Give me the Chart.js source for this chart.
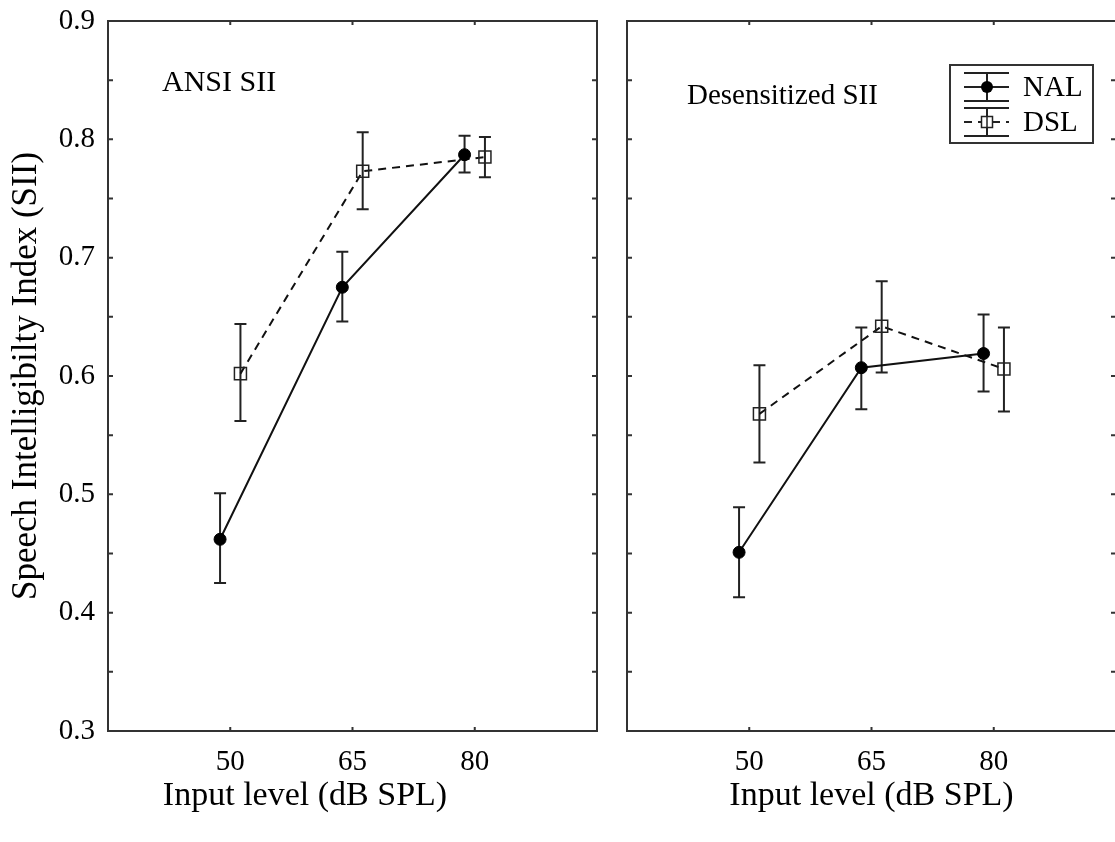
<!DOCTYPE html>
<html>
<head>
<meta charset="utf-8">
<script src="https://cdn.jsdelivr.net/npm/chart.js@4.4.1/dist/chart.umd.min.js"></script>
<style>
  html, body { margin: 0; padding: 0; background: #fff; overflow: hidden; }
  #wrap { position: relative; width: 1115px; height: 842px; overflow: hidden; }
  #left { position: absolute; left: 0; top: 0; }
  #right { position: absolute; left: 612px; top: 0; }
</style>
</head>
<body>
<div id="wrap">
  <canvas id="left" width="612" height="842"></canvas>
  <canvas id="right" width="520" height="842"></canvas>
</div>
<script>
// input levels (dB SPL); NAL and DSL points are drawn slightly apart
const levels = [50, 65, 80];
const shift = 1.25;

// ANSI SII panel
const ansiNal   = [0.462, 0.675, 0.787];
const ansiNalLo = [0.425, 0.646, 0.772];
const ansiNalHi = [0.501, 0.705, 0.803];
const ansiDsl   = [0.602, 0.773, 0.785];
const ansiDslLo = [0.562, 0.741, 0.768];
const ansiDslHi = [0.644, 0.806, 0.802];

// Desensitized SII panel
const desNal   = [0.451, 0.607, 0.619];
const desNalLo = [0.413, 0.572, 0.587];
const desNalHi = [0.489, 0.641, 0.652];
const desDsl   = [0.568, 0.642, 0.606];
const desDslLo = [0.527, 0.603, 0.570];
const desDslHi = [0.609, 0.680, 0.641];

const serif = "'Liberation Serif', 'Times New Roman', serif";
Chart.defaults.font.family = serif;
Chart.defaults.color = '#000';

function pts(vals, off) {
    return levels.map((l, i) => ({x: l + off, y: vals[i]}));
}

const errorBars = {
    id: 'errorBars',
    beforeDatasetsDraw(chart) {
        const {ctx, scales: {x, y}} = chart;
        ctx.save();
        ctx.strokeStyle = '#222';
        ctx.lineWidth = 2;
        chart.data.datasets.forEach(ds => {
            ds.data.forEach((p, i) => {
                const px = x.getPixelForValue(p.x);
                const top = y.getPixelForValue(ds.hi[i]);
                const bot = y.getPixelForValue(ds.lo[i]);
                ctx.beginPath();
                ctx.moveTo(px, top); ctx.lineTo(px, bot);
                ctx.moveTo(px - 6, top); ctx.lineTo(px + 6, top);
                ctx.moveTo(px - 6, bot); ctx.lineTo(px + 6, bot);
                ctx.stroke();
            });
        });
        ctx.restore();
    }
};

// box around the plot with short inward ticks
const frame = {
    id: 'frame',
    afterDraw(chart) {
        const {ctx, chartArea: a, scales: {x, y}} = chart;
        ctx.save();
        ctx.strokeStyle = '#333';
        ctx.lineWidth = 2;
        ctx.strokeRect(a.left, a.top, a.right - a.left, a.bottom - a.top);
        ctx.beginPath();
        y.ticks.forEach(t => {
            const py = y.getPixelForValue(t.value);
            ctx.moveTo(a.left, py); ctx.lineTo(a.left + 5, py);
            ctx.moveTo(a.right, py); ctx.lineTo(a.right - 5, py);
        });
        x.ticks.forEach(t => {
            const px = x.getPixelForValue(t.value);
            ctx.moveTo(px, a.top); ctx.lineTo(px, a.top + 4);
            ctx.moveTo(px, a.bottom); ctx.lineTo(px, a.bottom - 4);
        });
        ctx.stroke();
        ctx.restore();
    }
};

const panelLabel = {
    id: 'panelLabel',
    afterDraw(chart, args, o) {
        const {ctx, chartArea: a} = chart;
        ctx.save();
        ctx.fillStyle = '#000';
        ctx.font = o.size + 'px ' + serif;
        ctx.textBaseline = 'middle';
        ctx.fillText(o.text, a.left + o.dx, a.top + o.dy);
        ctx.restore();
    }
};

const keyBox = {
    id: 'keyBox',
    afterDraw(chart, args, o) {
        if (!o.show) return;
        const {ctx, chartArea: a} = chart;
        const w = 143, h = 78, bx = a.right - 166, by = a.top + 44;
        ctx.save();
        ctx.fillStyle = '#fff';
        ctx.fillRect(bx, by, w, h);
        ctx.strokeStyle = '#333';
        ctx.lineWidth = 2;
        ctx.strokeRect(bx, by, w, h);
        chart.data.datasets.forEach((ds, i) => {
            const cy = by + 22 + i * 35, cx = bx + 37;
            ctx.strokeStyle = '#222';
            ctx.lineWidth = 2;
            ctx.setLineDash([]);
            ctx.beginPath();
            ctx.moveTo(bx + 14, cy - 14); ctx.lineTo(bx + 59, cy - 14);
            ctx.moveTo(bx + 14, cy + 14); ctx.lineTo(bx + 59, cy + 14);
            ctx.moveTo(cx, cy - 14); ctx.lineTo(cx, cy + 14);
            ctx.stroke();
            ctx.setLineDash(ds.borderDash || []);
            ctx.beginPath();
            ctx.moveTo(bx + 14, cy); ctx.lineTo(bx + 59, cy);
            ctx.stroke();
            ctx.setLineDash([]);
            ctx.beginPath();
            if (ds.pointStyle === 'circle') {
                ctx.fillStyle = '#000';
                ctx.arc(cx, cy, 6, 0, Math.PI * 2);
                ctx.fill();
            } else {
                ctx.fillStyle = '#fff';
                ctx.rect(cx - 5.5, cy - 5.5, 11, 11);
                ctx.fill();
                ctx.lineWidth = 1.5;
                ctx.stroke();
                ctx.beginPath();
                ctx.moveTo(cx, cy - 5.5); ctx.lineTo(cx, cy + 5.5);
                ctx.stroke();
            }
            ctx.fillStyle = '#000';
            ctx.font = '29px ' + serif;
            ctx.textBaseline = 'middle';
            ctx.fillText(ds.label, bx + 73, cy + 1);
        });
        ctx.restore();
    }
};

function panel(id, p) {
    return new Chart(document.getElementById(id), {
        type: 'line',
        data: {
            datasets: [
                {
                    label: 'NAL', data: pts(p.nal, -shift), lo: p.nalLo, hi: p.nalHi,
                    borderColor: '#111', borderWidth: 2, tension: 0,
                    pointStyle: 'circle', pointRadius: 6,
                    pointBackgroundColor: '#000', pointBorderColor: '#000', pointBorderWidth: 1
                },
                {
                    label: 'DSL', data: pts(p.dsl, shift), lo: p.dslLo, hi: p.dslHi,
                    borderColor: '#111', borderWidth: 2, borderDash: [8, 6], tension: 0,
                    pointStyle: 'rect', pointRadius: 8.5,
                    pointBackgroundColor: 'rgba(0,0,0,0)', pointBorderColor: '#222', pointBorderWidth: 1.5
                }
            ]
        },
        options: {
            responsive: false,
            animation: false,
            devicePixelRatio: 1,
            layout: {padding: {left: p.padLeft, right: p.padRight, top: 21, bottom: 26}},
            plugins: {
                legend: {display: false},
                tooltip: {enabled: false},
                title: {
                    display: true, text: 'Input level (dB SPL)', position: 'bottom',
                    fullSize: p.titleFull, font: {size: 34, weight: 'normal'}, padding: 0, color: '#000'
                },
                panelLabel: p.label,
                keyBox: {show: p.key}
            },
            scales: {
                x: {
                    type: 'linear', min: 35, max: 95,
                    afterBuildTicks: s => { s.ticks = levels.map(v => ({value: v})); },
                    afterFit: s => { s.height = 44.2; },
                    grid: {display: false},
                    border: {display: false},
                    ticks: {font: {size: 29}, padding: 6, color: '#000', callback: v => String(v)}
                },
                y: {
                    min: 0.3, max: 0.9,
                    afterFit: s => { s.width = p.yWidth; s.paddingTop = 0; s.paddingBottom = 0; },
                    grid: {display: false},
                    border: {display: false},
                    ticks: {
                        display: p.yLabels, stepSize: 0.05, padding: 5, font: {size: 29}, color: '#000',
                        callback: v => Math.abs(v * 10 - Math.round(v * 10)) < 1e-6 ? v.toFixed(1) : ''
                    },
                    title: {
                        display: p.yLabels, text: 'Speech Intelligibilty Index (SII)',
                        font: {size: 35}, color: '#000', padding: {top: -7, bottom: 0}
                    }
                }
            }
        },
        plugins: [errorBars, frame, panelLabel, keyBox]
    });
}

panel('left', {
    nal: ansiNal, nalLo: ansiNalLo, nalHi: ansiNalHi,
    dsl: ansiDsl, dslLo: ansiDslLo, dslHi: ansiDslHi,
    padLeft: 13, yWidth: 95, padRight: 15, titleFull: true, yLabels: true, key: false,
    label: {text: 'ANSI SII', dx: 54, dy: 62, size: 30}
});

panel('right', {
    nal: desNal, nalLo: desNalLo, nalHi: desNalHi,
    dsl: desDsl, dslLo: desDslLo, dslHi: desDslHi,
    padLeft: 0, yWidth: 15, padRight: 16, titleFull: false, yLabels: false, key: true,
    label: {text: 'Desensitized SII', dx: 60, dy: 75, size: 29}
});
</script>
</body>
</html>
